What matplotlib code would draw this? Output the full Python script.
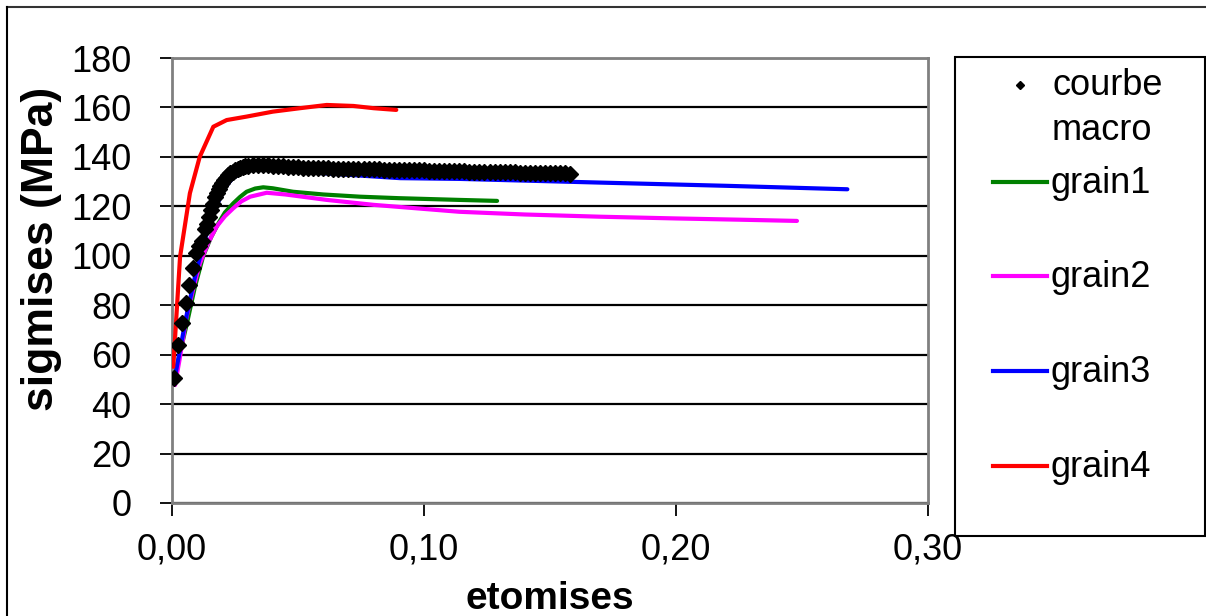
import matplotlib.pyplot as plt
from matplotlib.lines import Line2D
from matplotlib.patches import Rectangle

plt.rcParams['font.family'] = ['Liberation Sans', 'DejaVu Sans']

# courbe macro (diamond markers)
macro_eps = [0.0008, 0.0025, 0.0038, 0.0056, 0.0069, 0.0082, 0.0095, 0.0108, 0.0118, 0.0131,
             0.0140, 0.0148, 0.0156, 0.0164, 0.0171, 0.0178, 0.0185, 0.0192, 0.0199, 0.0207,
             0.0215, 0.0223, 0.0232, 0.0241, 0.0250, 0.0260, 0.0270, 0.0280, 0.0290, 0.0300,
             0.032, 0.034, 0.036, 0.038, 0.040, 0.042, 0.044, 0.046, 0.048, 0.050,
             0.052, 0.054, 0.056, 0.058, 0.060, 0.062, 0.064, 0.066, 0.068, 0.070,
             0.072, 0.074, 0.076, 0.078, 0.080, 0.082, 0.084, 0.086, 0.088, 0.090,
             0.092, 0.094, 0.096, 0.098, 0.100, 0.102, 0.104, 0.106, 0.108, 0.110,
             0.112, 0.114, 0.116, 0.118, 0.120, 0.122, 0.124, 0.126, 0.128, 0.130,
             0.132, 0.134, 0.136, 0.138, 0.140, 0.142, 0.144, 0.146, 0.148, 0.150,
             0.152, 0.154, 0.156, 0.158]
macro_sig = [50.7, 63.9, 72.7, 81.0, 88.2, 94.9, 101.2, 104.0, 106.1, 110.8,
             113.0, 115.8, 118.5, 121.0, 123.9, 125.5, 127.0, 128.3, 129.5, 130.6,
             131.6, 132.5, 133.3, 134.0, 134.6, 135.1, 135.5, 135.9, 136.2, 136.4,
             136.6, 136.8, 136.8, 136.7, 136.5, 136.3, 136.2, 136.0, 135.9, 135.8,
             135.7, 135.6, 135.5, 135.5, 135.4, 135.4, 135.3, 135.2, 135.2, 135.1,
             135.1, 135.0, 135.0, 134.9, 134.9, 134.9, 134.8, 134.8, 134.7, 134.7,
             134.6, 134.6, 134.6, 134.5, 134.5, 134.4, 134.4, 134.3, 134.3, 134.2,
             134.2, 134.1, 134.1, 134.0, 134.0, 134.0, 133.9, 133.9, 133.8, 133.8,
             133.8, 133.7, 133.7, 133.6, 133.6, 133.6, 133.5, 133.5, 133.4, 133.4,
             133.4, 133.3, 133.3, 133.2]

g1_eps = [0.0008, 0.003, 0.006, 0.009, 0.0124, 0.0155, 0.0184, 0.021, 0.0243, 0.027,
          0.0296, 0.033, 0.0362, 0.040, 0.048, 0.060, 0.0746, 0.090, 0.114, 0.129]
g1_sig = [50.0, 60.0, 73.0, 87.0, 100.0, 107.5, 113.1, 117.5, 121.2, 123.8,
          125.9, 127.2, 127.7, 127.3, 125.9, 124.8, 123.9, 123.3, 122.6, 122.2]

g2_eps = [0.0012, 0.003, 0.0058, 0.0085, 0.0111, 0.0145, 0.0177, 0.021, 0.0243, 0.0275,
          0.031, 0.0376, 0.045, 0.0614, 0.080, 0.114, 0.140, 0.170, 0.200, 0.225, 0.248]
g2_sig = [47.7, 58.0, 75.4, 87.0, 97.0, 105.5, 111.8, 116.0, 119.2, 122.0,
          123.9, 125.5, 124.8, 122.6, 120.6, 117.8, 116.7, 115.8, 115.1, 114.6, 114.1]

g3_eps = [0.001, 0.003, 0.006, 0.009, 0.012, 0.015, 0.018, 0.021, 0.0237, 0.027,
          0.031, 0.035, 0.045, 0.060, 0.0905, 0.114, 0.170, 0.220, 0.268]
g3_sig = [50.0, 61.0, 77.0, 91.0, 103.0, 113.0, 121.0, 127.5, 131.0, 133.5,
          135.0, 135.3, 134.5, 133.4, 131.4, 131.1, 129.6, 128.3, 126.9]

g4_eps = [0.0005, 0.0032, 0.0071, 0.011, 0.0164, 0.0217, 0.0296, 0.040, 0.0508, 0.0614,
          0.072, 0.080, 0.089]
g4_sig = [55.1, 99.6, 125.3, 140.0, 152.2, 154.9, 156.3, 158.3, 159.7, 161.0,
          160.6, 159.7, 159.0]

labels = ['courbe\nmacro', 'grain1', 'grain2', 'grain3', 'grain4']
colors = ['black', '#008000', '#ff00ff', '#0000ff', '#ff0000']

W, H = 1206, 616
fig = plt.figure(figsize=(W / 100, H / 100), dpi=100)
ax = fig.add_axes([172 / W, 1 - 503 / H, (928 - 172) / W, (503 - 58) / H])

for eps, sig, c in [(g1_eps, g1_sig, colors[1]), (g2_eps, g2_sig, colors[2]),
                    (g3_eps, g3_sig, colors[3]), (g4_eps, g4_sig, colors[4])]:
    ax.plot(eps, sig, color=c, lw=3, solid_capstyle='round', zorder=3)
ax.plot(macro_eps, macro_sig, ls='none', marker='D', ms=8, color='black', zorder=4)

ax.set_xlim(0, 0.30)
ax.set_ylim(0, 180)
ax.set_xticks([0, 0.1, 0.2, 0.3])
ax.set_xticklabels(['0,00', '0,10', '0,20', '0,30'])
ax.set_yticks(range(0, 181, 20))
ax.yaxis.grid(True, color='black', lw=1.6)
ax.set_axisbelow(True)
for s in ax.spines.values():
    s.set_color('#808080')
    s.set_linewidth(2)
ax.tick_params(axis='both', direction='out', length=9, width=1.3, color='black',
               labelsize=26)
ax.tick_params(axis='y', pad=20)
ax.tick_params(axis='x', pad=12)
ax.set_xlabel('etomises', fontsize=28, fontweight='bold', labelpad=10)
ax.set_ylabel('sigmises (MPa)', fontsize=32, fontweight='bold')
ax.yaxis.set_label_coords(-0.146, 0.571)

# outer frame (top and left edges visible)
fig.add_artist(Line2D([7 / W, 1], [1 - 7 / H, 1 - 7 / H], transform=fig.transFigure,
                      color='#333333', lw=1.5))
fig.add_artist(Line2D([7 / W, 7 / W], [0, 1 - 7 / H], transform=fig.transFigure,
                      color='black', lw=1.5))

# legend box
fig.add_artist(Rectangle((955 / W, 1 - 536 / H), (1205 - 955) / W, (536 - 57) / H,
                         transform=fig.transFigure, fill=False, ec='black', lw=1.5))
fig.add_artist(Line2D([1020 / W], [1 - 85 / H], transform=fig.transFigure,
                      marker='D', ms=4.5, color='black', ls='none'))
fig.text(1052 / W, 1 - 95 / H, 'courbe', fontsize=26, va='baseline')
fig.text(1052 / W, 1 - 140 / H, 'macro', fontsize=26, va='baseline')
for lab, c, yl in zip(labels[1:], colors[1:], [182, 276, 371, 466]):
    fig.add_artist(Line2D([993 / W, 1047 / W], [1 - yl / H, 1 - yl / H],
                          transform=fig.transFigure, color=c, lw=3))
    fig.text(1050 / W, 1 - (yl + 11) / H, lab, fontsize=26, va='baseline')

fig.savefig('out.png', dpi=100)
